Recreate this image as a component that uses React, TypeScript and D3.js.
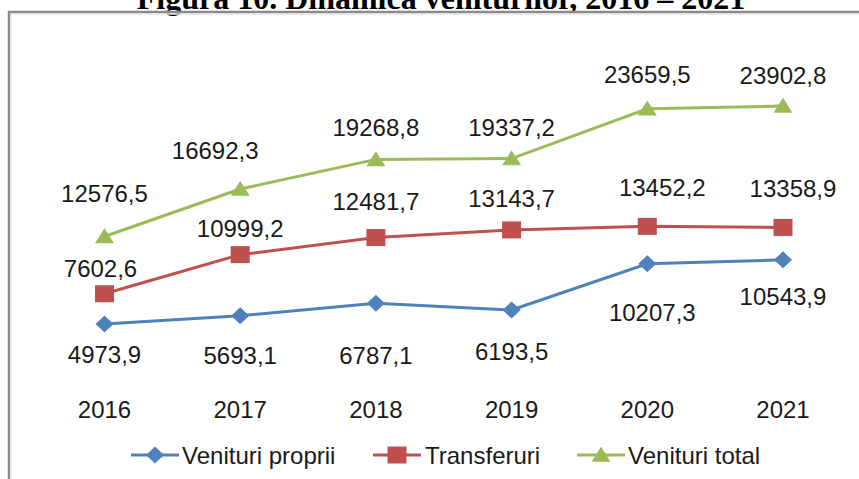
import React from "react";
import * as d3 from "d3";

const years = ["2016", "2017", "2018", "2019", "2020", "2021"];
const venituriProprii = [4973.9, 5693.1, 6787.1, 6193.5, 10207.3, 10543.9];
const transferuri = [7602.6, 10999.2, 12481.7, 13143.7, 13452.2, 13358.9];
const venituriTotal = [12576.5, 16692.3, 19268.8, 19337.2, 23659.5, 23902.8];
const seriesNames = ["Venituri proprii", "Transferuri", "Venituri total"];
const titleText = "Figura 10. Dinamica veniturilor, 2016 – 2021";

// label placement (layout only)
const labelDx = [
  [0, 0, 0, 0, 5, 0],
  [-4, 0, 0, 0, 15, 10],
  [0, -25, 0, 0, 0, 0],
];
const labelDy = [
  [30, 40, 52, 42, 49, 37],
  [-25, -26, -36, -31, -39, -39],
  [-43, -39, -32, -31, -34, -31],
];

const W = 859;
const H = 479;
const colors = ["#4F81BD", "#C0504D", "#9BBB59"];
const FONT = "'Liberation Sans', Arial, sans-serif";

function Marker({ kind, x, y, color }: { kind: number; x: number; y: number; color: string }) {
  if (kind === 0) {
    const w = 9, h = 8.5;
    return <path d={`M${x - w},${y} L${x},${y - h} L${x + w},${y} L${x},${y + h} Z`} fill={color} />;
  }
  if (kind === 1) {
    return <rect x={x - 9.5} y={y - 8.5} width={19} height={17} fill={color} />;
  }
  const w = 9.5, h = 15;
  return <path d={`M${x - w},${y + h * 0.45} L${x},${y - h * 0.55} L${x + w},${y + h * 0.45} Z`} fill={color} />;
}

export default function App() {
  const x = d3.scalePoint<string>().domain(years).range([104.5, 783]);
  const y = d3.scaleLinear().domain([0, 30000]).range([381.3, 35.8]);
  const data = [venituriProprii, transferuri, venituriTotal];
  const line = d3
    .line<number>()
    .x((_, i) => x(years[i]) as number)
    .y((d) => y(d));
  const fmt = (v: number) => d3.format(".1f")(v).replace(".", ",");

  const legendItems = [
    { lx: 131, tx: 182 },
    { lx: 373, tx: 425 },
    { lx: 577, tx: 628 },
  ];
  const legendY = 455;

  return (
    <svg width={W} height={H} style={{ position: "absolute", left: 0, top: 0, background: "#fff" }}>
      <rect x={0} y={0} width={W} height={H} fill="#fff" />
      <text
        x={441}
        y={9}
        textAnchor="middle"
        fontFamily="'Liberation Serif', 'Times New Roman', serif"
        fontWeight="bold"
        fontSize={32}
        fill="#000"
      >
        {titleText}
      </text>
      {/* frame */}
      <rect x={9} y={12} width={900} height={600} fill="none" stroke="#8a8a8a" strokeWidth={2.5} />
      <rect x={11} y={14} width={900} height={600} fill="none" stroke="#e2e2e2" strokeWidth={1.5} />

      {data.map((s, si) => (
        <path key={"l" + si} d={line(s) || ""} fill="none" stroke={colors[si]} strokeWidth={3} />
      ))}
      {data.map((s, si) =>
        s.map((v, i) => (
          <Marker key={`m${si}-${i}`} kind={si} x={x(years[i]) as number} y={y(v)} color={colors[si]} />
        ))
      )}
      {data.map((s, si) =>
        s.map((v, i) => (
          <text
            key={`t${si}-${i}`}
            x={(x(years[i]) as number) + labelDx[si][i]}
            y={y(v) + labelDy[si][i]}
            textAnchor="middle"
            dominantBaseline="central"
            fontFamily={FONT}
            fontSize={24}
            fill="#1a1a1a"
          >
            {fmt(v)}
          </text>
        ))
      )}
      {years.map((yr) => (
        <text
          key={yr}
          x={x(yr) as number}
          y={409}
          textAnchor="middle"
          dominantBaseline="central"
          fontFamily={FONT}
          fontSize={24}
          fill="#1a1a1a"
        >
          {yr}
        </text>
      ))}
      {legendItems.map((it, si) => (
        <g key={"lg" + si}>
          <line x1={it.lx} x2={it.lx + 48} y1={legendY} y2={legendY} stroke={colors[si]} strokeWidth={3} />
          <Marker kind={si} x={it.lx + 24} y={legendY} color={colors[si]} />
          <text
            x={it.tx}
            y={legendY}
            dominantBaseline="central"
            fontFamily={FONT}
            fontSize={24}
            fill="#1a1a1a"
          >
            {seriesNames[si]}
          </text>
        </g>
      ))}
    </svg>
  );
}
